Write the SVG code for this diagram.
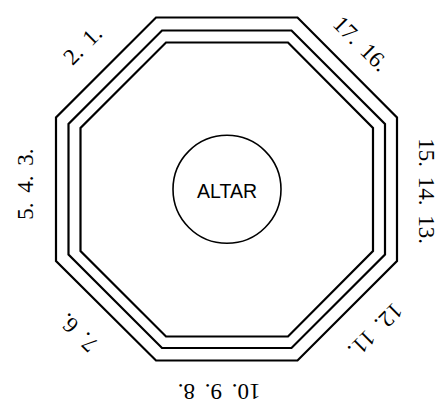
<svg xmlns="http://www.w3.org/2000/svg" width="441" height="404" viewBox="0 0 441 404">
<style>
.oct{fill:none;stroke:#000;stroke-width:2.2;stroke-linejoin:miter}
.lbl{font-family:"Liberation Serif","Times New Roman",serif;font-size:23px;word-spacing:4px;fill:#000;text-anchor:middle}
.alt{font-family:"Liberation Sans",Arial,sans-serif;font-size:19.5px;fill:#000;text-anchor:middle}
</style>
<rect width="441" height="404" fill="#fff"/>
<g id="walls">
<polygon class="oct" points="156,17.5 297.5,17.5 397,117.5 397,261 297.5,360.5 156,360.5 56,261 56,117.5"/>
<polygon class="oct" points="162,30.5 291.5,30.5 385,124 385,254.5 291.5,348 162,348 68.5,254.5 68.5,124"/>
<polygon class="oct" points="166,42.5 288,42.5 373,128 373,251 288,336.5 166,336.5 80.5,251 80.5,128"/>
</g>
<g id="altar">
<circle cx="227" cy="189.3" r="54" fill="none" stroke="#000" stroke-width="1.6"/>
<text class="alt" x="227" y="197.5">ALTAR</text>
</g>
<g id="labels">
<text class="lbl" transform="translate(82.5,45) rotate(-45)" x="0" y="7.8">2. 1.</text>
<text class="lbl" transform="translate(361,43.5) rotate(45)" x="0" y="7.8">17. 16.</text>
<text class="lbl" transform="translate(427,191) rotate(90)" x="0" y="7.8">15. 14. 13.</text>
<text class="lbl" transform="translate(375.5,330.5) rotate(135)" x="0" y="7.8">12. 11.</text>
<text class="lbl" transform="translate(219,392) rotate(180)" x="0" y="7.8">10. 9. 8.</text>
<text class="lbl" transform="translate(78,333) rotate(225)" x="0" y="7.8">7. 6.</text>
<text class="lbl" transform="translate(25,184) rotate(-90)" x="0" y="7.8">5. 4. 3.</text>
</g>
</svg>
